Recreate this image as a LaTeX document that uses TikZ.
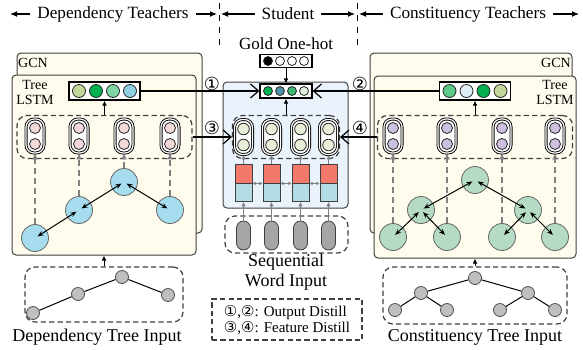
\documentclass[tikz,border=0pt]{standalone}
\usepackage{fontspec}
\setmainfont{Liberation Serif}
\newfontfamily\circfont{DejaVu Sans}
\usetikzlibrary{arrows.meta}

\definecolor{cream}{HTML}{FFFCEE}
\definecolor{stubg}{HTML}{EAF3FB}
\definecolor{depfill}{HTML}{A6DDEE}
\definecolor{confill}{HTML}{B6DBC5}
\definecolor{pinkfill}{HTML}{F2D8D8}
\definecolor{purplefill}{HTML}{CDC0E0}
\definecolor{stufill}{HTML}{E8EFD8}
\definecolor{redblk}{HTML}{F37A6B}
\definecolor{blueblk}{HTML}{B3DDE6}
\definecolor{olivec}{HTML}{C4D79B}
\definecolor{greenc}{HTML}{00B050}
\definecolor{mintc}{HTML}{7ED4A2}
\definecolor{skyc}{HTML}{8ECFE2}
\definecolor{tealc}{HTML}{4F93AB}
\definecolor{midgc}{HTML}{3DB870}
\definecolor{palegc}{HTML}{E2EFDA}
\definecolor{palebc}{HTML}{DDEEF6}
\definecolor{softgc}{HTML}{5CC98A}
\definecolor{inputgray}{HTML}{BFBFBF}
\definecolor{pillgray}{HTML}{A6A6A6}

\tikzset{
  panel/.style={draw=black!75, fill=cream, rounded corners=2pt, line width=0.5pt, inner sep=0pt},
  dashbox/.style={draw=black!75, dash pattern=on 2.6pt off 1.6pt, rounded corners=5pt, line width=0.6pt, inner sep=0pt},
  outbox/.style={draw, fill=white, line width=0.6pt, inner sep=0pt},
  dot/.style={circle, draw=black!85, line width=0.4pt, inner sep=0pt, minimum size=6.5pt},
  smalldot/.style={circle, draw=black!85, line width=0.4pt, inner sep=0pt, minimum size=4.5pt},
  cell/.style={draw, fill=white, double, double distance=0.6pt, line width=0.45pt, rounded corners=4pt, minimum width=9pt, minimum height=17pt, inner sep=0pt},
  celldot/.style={circle, draw=black!85, line width=0.4pt, inner sep=0pt, minimum size=5.5pt},
  treenode/.style={circle, draw=black!60, line width=0.4pt, inner sep=0pt, minimum size=13.5pt},
  innode/.style={circle, draw=black!70, fill=inputgray, line width=0.4pt, inner sep=0pt, minimum size=6.5pt},
  treeedge/.style={{Stealth[length=3pt,width=2.4pt]}-{Stealth[length=3pt,width=2.4pt]}, line width=0.5pt, shorten <=1.5pt, shorten >=1.5pt},
  feedarrow/.style={-{Latex[length=3pt,width=3pt]}, draw=black!50, dash pattern=on 3pt off 2pt, line width=0.6pt},
  grayarrow/.style={-{Latex[length=2.2pt,width=2.2pt]}, draw=black!50, line width=0.6pt},
  sidearrow/.style={{Latex[length=1.6pt,width=1.8pt]}-{Latex[length=1.6pt,width=1.8pt]}, draw=black!50, line width=0.4pt},
  smallarrow/.style={-{Latex[length=2.5pt,width=2.4pt]}, line width=0.5pt},
  distil/.style={-{Straight Barb[length=4pt,width=7pt]}, line width=0.6pt},
  hdarrow/.style={-{Latex[length=3.5pt,width=3pt]}, line width=0.6pt},
  block/.style={draw=black!75, line width=0.4pt, minimum width=8.5pt, inner sep=0pt},
  pill/.style={draw=black!75, fill=pillgray, line width=0.4pt, rounded corners=3.5pt, minimum width=7pt, minimum height=14.5pt, inner sep=0pt},
  numlbl/.style={font=\circfont\fontsize{9}{9}\selectfont, inner sep=0pt},
  smalllbl/.style={font=\fontsize{7}{7.5}\selectfont, inner sep=0pt}
}

\begin{document}
\begin{tikzpicture}[x=0.5pt, y=-0.5pt, font=\fontsize{9}{10}\selectfont]

        \useasboundingbox (0,0) rectangle (583,349);

        % header
        \begin{scope}[every node/.style={font=\fontsize{8.6}{9}\selectfont}]
          \node (hdep) at (113,14) {Dependency Teachers};
          \node (hstu) at (288,14) {Student};
          \node (hcon) at (468,14) {Constituency Teachers};
        \end{scope}
        \coordinate (h0)  at (10,14);
        \coordinate (h1a) at (217,14);
        \coordinate (h1b) at (221,14);
        \coordinate (h2a) at (355,14);
        \coordinate (h2b) at (359,14);
        \coordinate (h3)  at (579,14);
        \coordinate (v1t) at (219,3);
        \coordinate (v1b) at (219,46);
        \coordinate (v2t) at (357,3);
        \coordinate (v2b) at (357,46);
        \draw[hdarrow] (hdep) -- (h0);
        \draw[hdarrow] (hdep) -- (h1a);
        \draw[hdarrow] (hstu) -- (h1b);
        \draw[hdarrow] (hstu) -- (h2a);
        \draw[hdarrow] (hcon) -- (h2b);
        \draw[hdarrow] (hcon) -- (h3);
        \draw[dashed, line width=0.5pt] (v1t) -- (v1b);
        \draw[dashed, line width=0.5pt] (v2t) -- (v2b);

        % dependency teacher
        \node[panel, minimum width=92.5pt, minimum height=90pt] (depgcn)  at (109.5,143) {};
        \node[panel, minimum width=92pt, minimum height=90pt]   (deptree) at (104,165) {};
        \node[smalllbl] (depgcnlbl) at (33,63) {GCN};
        \node[smalllbl, align=center] (deplstmlbl) at (35,92) {Tree\\LSTM};

        \node[outbox, minimum width=35.5pt, minimum height=9pt] (depout) at (104.5,91) {};
        \begin{scope}[every node/.style={dot}]
          \node[fill=olivec] (depo1) at (79,91)  {};
          \node[fill=greenc] (depo2) at (96,91)  {};
          \node[fill=mintc]  (depo3) at (113,91) {};
          \node[fill=skyc]   (depo4) at (130,91) {};
        \end{scope}

        \node[dashbox, minimum width=87.5pt, minimum height=21.5pt] (depfeat) at (104.5,137) {};
        \draw[smallarrow] (depfeat) -- (depout);

        \begin{scope}[every node/.style={cell}]
          \node (depc1) at (35,136)  {};
          \node (depc2) at (79,136)  {};
          \node (depc3) at (124,136) {};
          \node (depc4) at (170,136) {};
        \end{scope}
        \begin{scope}[every node/.style={celldot, fill=pinkfill}]
          \node (depc1a) at (35,128)  {};
          \node (depc1b) at (35,144)  {};
          \node (depc2a) at (79,128)  {};
          \node (depc2b) at (79,144)  {};
          \node (depc3a) at (124,128) {};
          \node (depc3b) at (124,144) {};
          \node (depc4a) at (170,128) {};
          \node (depc4b) at (170,144) {};
        \end{scope}

        \begin{scope}[every node/.style={treenode, fill=depfill}]
          \node (dn1) at (35,238)  {};
          \node (dn2) at (79,210)  {};
          \node (dn3) at (124,182) {};
          \node (dn4) at (170,210) {};
        \end{scope}
        \draw[treeedge] (dn1.center) -- (dn2.center);
        \draw[treeedge] (dn2.center) -- (dn3.center);
        \draw[treeedge] (dn3.center) -- (dn4.center);
        \draw[feedarrow] (dn1) -- (depc1);
        \draw[feedarrow] (dn2) -- (depc2);
        \draw[feedarrow] (dn3) -- (depc3);
        \draw[feedarrow] (dn4) -- (depc4);

        \node[dashbox, minimum width=79pt, minimum height=27.5pt] (depin) at (104,294.5) {};
        \begin{scope}[every node/.style={innode}]
          \node (di1) at (33,313)  {};
          \node (di2) at (78,294)  {};
          \node (di3) at (122,277) {};
          \node (di4) at (168,295) {};
        \end{scope}
        \draw[line width=0.5pt] (di1) -- (di2) -- (di3) -- (di4);
        \draw[smallarrow] (depin) -- (deptree);
        \node (depinlbl) at (97,337) {Dependency Tree Input};

        % constituency teacher
        \node[panel, minimum width=101pt, minimum height=90pt] (congcn)  at (471,143) {};
        \node[panel, minimum width=101pt, minimum height=91pt] (contree) at (475,167) {};
        \node[smalllbl] (congcnlbl) at (556,63) {GCN};
        \node[smalllbl, align=center] (conlstmlbl) at (555,92) {Tree\\LSTM};

        \node[outbox, minimum width=35.5pt, minimum height=9pt] (conout) at (475,91) {};
        \begin{scope}[every node/.style={dot}]
          \node[fill=softgc] (cono1) at (449.5,91) {};
          \node[fill=palebc] (cono2) at (466.5,91) {};
          \node[fill=greenc] (cono3) at (483.5,91) {};
          \node[fill=olivec] (cono4) at (500.5,91) {};
        \end{scope}

        \node[dashbox, minimum width=97.5pt, minimum height=21.5pt] (confeat) at (475,137) {};
        \draw[smallarrow] (confeat) -- (conout);

        \begin{scope}[every node/.style={cell}]
          \node (conc1) at (393,136) {};
          \node (conc2) at (447,136) {};
          \node (conc3) at (502,136) {};
          \node (conc4) at (555,136) {};
        \end{scope}
        \begin{scope}[every node/.style={celldot, fill=purplefill}]
          \node (conc1a) at (393,128) {};
          \node (conc1b) at (393,144) {};
          \node (conc2a) at (447,128) {};
          \node (conc2b) at (447,144) {};
          \node (conc3a) at (502,128) {};
          \node (conc3b) at (502,144) {};
          \node (conc4a) at (555,128) {};
          \node (conc4b) at (555,144) {};
        \end{scope}

        \begin{scope}[every node/.style={treenode, fill=confill}]
          \node (cnroot) at (475,180) {};
          \node (cnl)    at (421,210) {};
          \node (cnr)    at (528,210) {};
          \node (cn1)    at (393,237) {};
          \node (cn2)    at (447,237) {};
          \node (cn3)    at (502,237) {};
          \node (cn4)    at (555,237) {};
        \end{scope}
        \draw[treeedge] (cnroot.center) -- (cnl.center);
        \draw[treeedge] (cnroot.center) -- (cnr.center);
        \draw[treeedge] (cnl.center) -- (cn1.center);
        \draw[treeedge] (cnl.center) -- (cn2.center);
        \draw[treeedge] (cnr.center) -- (cn3.center);
        \draw[treeedge] (cnr.center) -- (cn4.center);
        \draw[feedarrow] (cn1) -- (conc1);
        \draw[feedarrow] (cn2) -- (conc2);
        \draw[feedarrow] (cn3) -- (conc3);
        \draw[feedarrow] (cn4) -- (conc4);

        \node[dashbox, minimum width=92pt, minimum height=28.5pt] (conin) at (475,295.5) {};
        \begin{scope}[every node/.style={innode}]
          \node (ciroot) at (475,278) {};
          \node (cil)    at (421,293) {};
          \node (cir)    at (528,293) {};
          \node (ci1)    at (395,310) {};
          \node (ci2)    at (447,310) {};
          \node (ci3)    at (500,310) {};
          \node (ci4)    at (555,310) {};
        \end{scope}
        \draw[line width=0.5pt] (ci1) -- (cil) -- (ciroot) -- (cir) -- (ci4);
        \draw[line width=0.5pt] (cil) -- (ci2);
        \draw[line width=0.5pt] (cir) -- (ci3);
        \draw[smallarrow] (conin) -- (contree);
        \node (coninlbl) at (475,337) {Constituency Tree Input};

        % student
        \node[panel, fill=stubg, minimum width=62.5pt, minimum height=63pt] (stupanel) at (285.5,145) {};

        \node[font=\fontsize{8.5}{9}\selectfont] (goldlbl) at (286,44) {Gold One-hot};
        \node[outbox, minimum width=26pt, minimum height=6.5pt] (gold) at (286,61) {};
        \begin{scope}[every node/.style={smalldot}]
          \node[fill=black] (g1) at (268,61) {};
          \node[fill=white] (g2) at (280,61) {};
          \node[fill=white] (g3) at (292,61) {};
          \node[fill=white] (g4) at (304,61) {};
        \end{scope}

        \node[outbox, minimum width=26pt, minimum height=7pt] (stuout) at (286,91) {};
        \begin{scope}[every node/.style={smalldot}]
          \node[fill=greenc] (so1) at (268,91) {};
          \node[fill=tealc]  (so2) at (280,91) {};
          \node[fill=midgc]  (so3) at (292,91) {};
          \node[fill=palegc] (so4) at (304,91) {};
        \end{scope}
        \draw[smallarrow] (gold) -- (stuout);

        \node[dashbox, minimum width=53.5pt, minimum height=21.5pt] (stufeat) at (286,137) {};
        \draw[smallarrow] (stufeat) -- (stuout);

        \begin{scope}[every node/.style={cell, minimum height=17.5pt}]
          \node (stuc1) at (243.5,137) {};
          \node (stuc2) at (271.5,137) {};
          \node (stuc3) at (300.5,137) {};
          \node (stuc4) at (328.5,137) {};
        \end{scope}
        \begin{scope}[every node/.style={celldot, fill=stufill, minimum size=5.8pt}]
          \node (stuc1a) at (243.5,129) {};
          \node (stuc1b) at (243.5,145) {};
          \node (stuc2a) at (271.5,129) {};
          \node (stuc2b) at (271.5,145) {};
          \node (stuc3a) at (300.5,129) {};
          \node (stuc3b) at (300.5,145) {};
          \node (stuc4a) at (328.5,129) {};
          \node (stuc4b) at (328.5,145) {};
        \end{scope}

        \begin{scope}[every node/.style={block, fill=redblk, minimum height=9.5pt}]
          \node (sr1) at (243.5,173.5) {};
          \node (sr2) at (271.5,173.5) {};
          \node (sr3) at (300.5,173.5) {};
          \node (sr4) at (328.5,173.5) {};
        \end{scope}
        \begin{scope}[every node/.style={block, fill=blueblk, minimum height=9pt}]
          \node (sb1) at (243.5,192.5) {};
          \node (sb2) at (271.5,192.5) {};
          \node (sb3) at (300.5,192.5) {};
          \node (sb4) at (328.5,192.5) {};
        \end{scope}
        \draw[sidearrow] (sr1.south east) -- (sr2.south west);
        \draw[sidearrow] (sr2.south east) -- (sr3.south west);
        \draw[sidearrow] (sr3.south east) -- (sr4.south west);
        \draw[grayarrow] (sr1) -- (stuc1);
        \draw[grayarrow] (sr2) -- (stuc2);
        \draw[grayarrow] (sr3) -- (stuc3);
        \draw[grayarrow] (sr4) -- (stuc4);

        \node[dashbox, minimum width=61.5pt, minimum height=18.5pt] (wordin) at (286.5,234.5) {};
        \begin{scope}[every node/.style={pill}]
          \node (w1) at (243.5,235.5) {};
          \node (w2) at (271.5,235.5) {};
          \node (w3) at (300.5,235.5) {};
          \node (w4) at (328.5,235.5) {};
        \end{scope}
        \draw[grayarrow] (w1) -- (sb1);
        \draw[grayarrow] (w2) -- (sb2);
        \draw[grayarrow] (w3) -- (sb3);
        \draw[grayarrow] (w4) -- (sb4);
        \node[align=center, font=\fontsize{9}{9.8}\selectfont] (wordlbl) at (286,272) {Sequential\\Word Input};

        % distillation
        \draw[distil] (depout) -- (stuout);
        \draw[distil] (conout) -- (stuout);
        \draw[distil] (depfeat) -- (stufeat);
        \draw[distil] (confeat) -- (stufeat);
        \node[numlbl] (n1) at (212,84)  {①};
        \node[numlbl] (n2) at (360,84)  {②};
        \node[numlbl] (n3) at (212,128) {③};
        \node[numlbl] (n4) at (360,128) {④};

        % legend
        \node[dashbox, rounded corners=0pt, minimum width=75pt, minimum height=20.5pt] (legend) at (287,319.5) {};
        \node[align=left, font=\fontsize{7.5}{8}\selectfont] (legendtxt) at (287,320)
          {{\circfont ①},{\circfont ②}: Output Distill\\{\circfont ③},{\circfont ④}: Feature Distill};

      \end{tikzpicture}
\end{document}
